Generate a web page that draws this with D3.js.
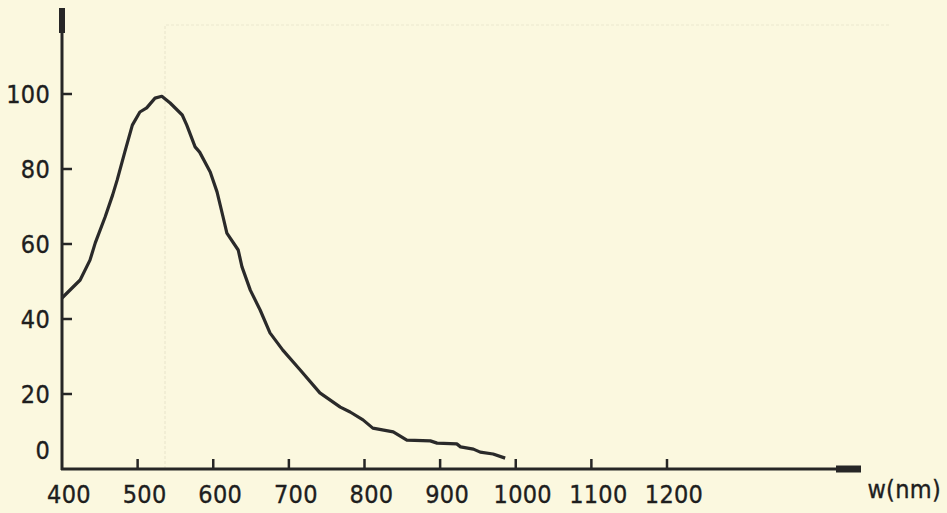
<!DOCTYPE html>
<html>
<head>
<meta charset="utf-8">
<script src="https://cdn.jsdelivr.net/npm/d3@7"></script>
<style>
  html, body { margin: 0; padding: 0; background: #fbf8df; }
  svg { display: block; }
  .lbl { font-family: "Liberation Sans Narrow", "DejaVu Sans Condensed", "Liberation Sans", sans-serif; fill: #1e1e1e; stroke: #1e1e1e; stroke-width: 0.35; letter-spacing: 0.3px; }
</style>
</head>
<body>
<svg id="chart" width="947" height="513"></svg>
<script>
// Data
const wavelength = [400, 424, 437, 444, 457, 467, 473, 483, 493, 503, 512, 523, 532, 543, 559, 565, 576, 582, 596, 605, 613, 618, 633, 638, 649, 662, 675, 692, 715, 741, 768, 781, 798, 811, 838, 856, 887, 896, 922, 927, 944, 953, 970, 986];
const intensity  = [45.6, 50.4, 55.7, 60.3, 67.2, 73.1, 77.1, 84.5, 91.7, 95.2, 96.3, 98.9, 99.4, 97.6, 94.4, 91.7, 85.9, 84.5, 79.2, 73.9, 67.2, 62.9, 58.4, 53.9, 47.7, 42.4, 36.3, 31.7, 26.4, 20.3, 16.5, 15.2, 13.1, 10.9, 9.9, 7.7, 7.5, 6.9, 6.7, 5.9, 5.3, 4.5, 4.0, 2.9];
const xTicks = [400, 500, 600, 700, 800, 900, 1000, 1100, 1200];
const yTicks = [0, 20, 40, 60, 80, 100];
const xAxisLabel = "w(nm)";

const svg = d3.select("#chart");
const ink = "#262626";

const x = d3.scaleLinear().domain([400, 1200]).range([62, 667]);
const y = d3.scaleLinear().domain([0, 100]).range([469, 94]);

// faint bleed-through frame (scan artefact)
svg.append("path")
  .attr("d", "M165,469 L165,25 L890,25")
  .attr("fill", "none").attr("stroke", "#ece8cf").attr("stroke-width", 1.2)
  .attr("stroke-dasharray", "3,2");

// Axes lines
svg.append("line").attr("x1", 62).attr("x2", 62).attr("y1", 8).attr("y2", 470)
  .attr("stroke", ink).attr("stroke-width", 3);
svg.append("line").attr("x1", 61).attr("x2", 861).attr("y1", 469).attr("y2", 469)
  .attr("stroke", ink).attr("stroke-width", 3);
// thick ends
svg.append("rect").attr("x", 59).attr("y", 8).attr("width", 6).attr("height", 25).attr("fill", ink);
svg.append("rect").attr("x", 836).attr("y", 465.5).attr("width", 25).attr("height", 7).attr("fill", ink);

const fs = 25;

// x ticks
const gx = svg.append("g");
gx.selectAll("line").data(xTicks.filter(d => d !== 400)).join("line")
  .attr("x1", d => x(d)).attr("x2", d => x(d))
  .attr("y1", 469).attr("y2", 459)
  .attr("stroke", ink).attr("stroke-width", 2.5);
gx.selectAll("text").data(xTicks).join("text")
  .attr("class", "lbl")
  .attr("x", d => x(d) + 7).attr("y", 503)
  .attr("text-anchor", "middle")
  .attr("font-size", fs)
  .text(d => d);

// y ticks
const gy = svg.append("g");
gy.selectAll("line").data(yTicks.filter(d => d !== 0)).join("line")
  .attr("x1", 62).attr("x2", 72)
  .attr("y1", d => y(d)).attr("y2", d => y(d))
  .attr("stroke", ink).attr("stroke-width", 2.5);
gy.selectAll("text").data(yTicks).join("text")
  .attr("class", "lbl")
  .attr("x", 50)
  .attr("y", d => d === 0 ? 459 : y(d) + 9)
  .attr("text-anchor", "end")
  .attr("font-size", fs)
  .text(d => d);

// axis label
svg.append("text").attr("class", "lbl")
  .attr("x", 941).attr("y", 498)
  .attr("text-anchor", "end")
  .attr("font-size", fs)
  .text(xAxisLabel);

// curve
const line = d3.line()
  .x((d, i) => x(wavelength[i]))
  .y((d, i) => y(intensity[i]))
  .curve(d3.curveLinear);
svg.append("path")
  .datum(intensity)
  .attr("d", line)
  .attr("fill", "none")
  .attr("stroke", "#2a2a2a")
  .attr("stroke-width", 3.2)
  .attr("stroke-linejoin", "round");
</script>
</body>
</html>
